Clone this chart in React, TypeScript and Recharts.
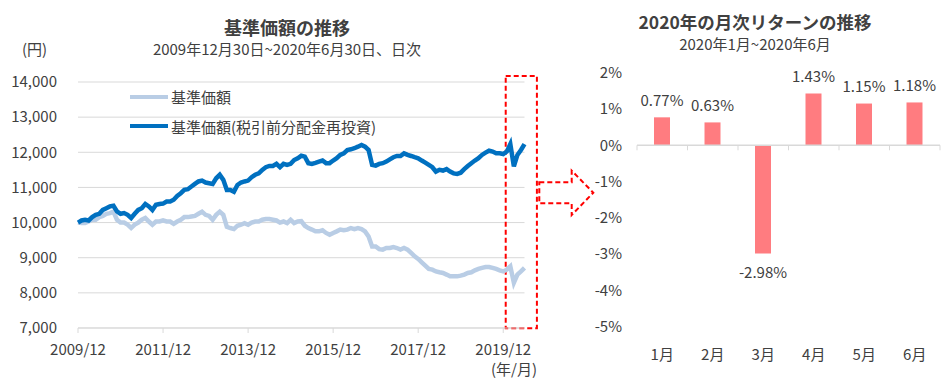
import React from 'react';
import {
  LineChart,
  Line,
  XAxis,
  YAxis,
  CartesianGrid,
  Legend,
  ReferenceArea,
  BarChart,
  Bar,
  LabelList,
  ReferenceLine,
} from 'recharts';

// ---- left chart: month-end NAV, 2009/12 .. 2020/06 ----
const firstMonth = '2009/12';

const baseNav = [
  10000, 9985, 9990, 10030, 10080, 10080, 10155, 10190, 10250, 10270, 10310, 10080,
  10000, 10000, 9940, 9845, 9940, 10000, 10080, 10130, 10030, 9940, 10030, 10030,
  10060, 10030, 10030, 9965, 10030, 10080, 10155, 10155, 10175, 10190, 10250, 10310,
  10220, 10190, 10080, 10220, 10310, 10220, 9880, 9845, 9815, 9910, 9940, 9985,
  9940, 10000, 10030, 10030, 10080, 10100, 10100, 10080, 10060, 10000, 10030, 9985,
  10080, 9985, 10030, 10040, 9910, 9845, 9800, 9750, 9750, 9780, 9705, 9655,
  9705, 9750, 9800, 9780, 9800, 9845, 9815, 9845, 9815, 9750, 9605, 9320,
  9320, 9245, 9230, 9275, 9275, 9300, 9275, 9230, 9275, 9230, 9135, 9040,
  8965, 8870, 8775, 8680, 8660, 8610, 8585, 8565, 8520, 8470, 8470, 8470,
  8490, 8520, 8565, 8585, 8640, 8680, 8710, 8735, 8735, 8710, 8680, 8640,
  8610, 8660, 8755, 8290, 8520, 8610, 8710,
];

const reinvestNav = [
  10000, 10060, 10080, 10060, 10155, 10220, 10250, 10360, 10410, 10460, 10480, 10315,
  10250, 10270, 10220, 10130, 10250, 10360, 10410, 10530, 10460, 10360, 10505, 10530,
  10540, 10600, 10600, 10650, 10760, 10835, 10930, 10950, 11025, 11100, 11170, 11195,
  11140, 11120, 11100, 11260, 11360, 11215, 10930, 10930, 10880, 11070, 11140, 11170,
  11195, 11290, 11360, 11400, 11500, 11575, 11610, 11610, 11670, 11575, 11670, 11640,
  11670, 11780, 11830, 11900, 11875, 11690, 11670, 11700, 11735, 11765, 11690, 11690,
  11765, 11830, 11925, 11970, 12065, 12085, 12115, 12160, 12210, 12160, 12065, 11640,
  11620, 11670, 11690, 11735, 11800, 11860, 11895, 11895, 11970, 11925, 11895, 11860,
  11830, 11765, 11705, 11640, 11575, 11450, 11500, 11480, 11520, 11450, 11400, 11385,
  11420, 11520, 11610, 11690, 11765, 11830, 11925, 11990, 12045, 12020, 11970, 11970,
  11950, 12020, 12235, 11600, 11925, 12065, 12235,
];

const xTickLabels = ['2009/12', '2011/12', '2013/12', '2015/12', '2017/12', '2019/12'];
const yTicksNav = [7000, 8000, 9000, 10000, 11000, 12000, 13000, 14000];

// ---- right chart: 2020 monthly returns (%) ----
const months = ['1月', '2月', '3月', '4月', '5月', '6月'];
const monthlyReturns = [0.77, 0.63, -2.98, 1.43, 1.15, 1.18];
const yTicksReturn = [-5, -4, -3, -2, -1, 0, 1, 2];

// "YYYY/MM" -> months since firstMonth
const toMonthIndex = (d: string) => {
  const [y, m] = d.split('/').map(Number);
  const [y0, m0] = firstMonth.split('/').map(Number);
  return (y - y0) * 12 + (m - m0);
};

const navData = baseNav.map((v, i) => ({ m: i, base: v, reinvest: reinvestNav[i] }));
const xTicks = xTickLabels.map(toMonthIndex);
const lastIndex = baseNav.length - 1;

const returnData = months.map((name, i) => ({ name, value: monthlyReturns[i] }));

const FONT = '"Noto Sans CJK JP", "Noto Sans", sans-serif';
const TEXT = '#404040';
const GRID = '#D9D9D9';

const renderLegend = (props: any) => (
  <div>
    {props.payload.map((p: any) => (
      <div
        key={p.value}
        style={{ display: 'flex', alignItems: 'center', height: 29.5, fontSize: 15, color: TEXT, whiteSpace: 'nowrap' }}
      >
        <svg width={40} height={6}>
          <line x1={0} y1={3} x2={38} y2={3} stroke={p.color} strokeWidth={4} />
        </svg>
        <span style={{ marginLeft: 1 }}>{p.value}</span>
      </div>
    ))}
  </div>
);

const renderBarLabel = (props: any) => {
  const { x, y, width, height, value } = props;
  const top = Math.min(y, y + height);
  const bottom = Math.max(y, y + height);
  const ty = value >= 0 ? top - 11.5 : bottom + 24.5;
  return (
    <text x={x + width / 2} y={ty} textAnchor="middle" fontSize={15} fill={TEXT} fontFamily={FONT}>
      {Number(value).toFixed(2)}%
    </text>
  );
};

// category axis drawn on the 0% line, with tick marks between categories
const ZeroAxis = (props: any) => {
  const { x1, y1, x2 } = props;
  const n = months.length;
  const step = (x2 - x1) / n;
  return (
    <g>
      <line x1={x1} y1={y1} x2={x2} y2={y1} stroke={GRID} strokeWidth={1.5} />
      {Array.from({ length: n + 1 }, (_, i) => (
        <line key={i} x1={x1 + i * step} x2={x1 + i * step} y1={y1} y2={y1 + 5} stroke={GRID} />
      ))}
    </g>
  );
};

const centered = (cx: number, cy: number, w: number, h: number, size: number, bold = false): React.CSSProperties => ({
  position: 'absolute',
  left: cx - w / 2,
  width: w,
  top: cy - h / 2,
  height: h,
  lineHeight: `${h}px`,
  textAlign: 'center',
  fontSize: size,
  fontWeight: bold ? 700 : 400,
  color: TEXT,
  whiteSpace: 'nowrap',
});

export default function App() {
  return (
    <div
      style={{
        position: 'absolute',
        left: 0,
        top: 0,
        width: 948,
        height: 388,
        background: '#fff',
        fontFamily: FONT,
        overflow: 'hidden',
      }}
    >
      {/* left titles */}
      <div style={centered(287, 26.5, 300, 20, 18, true)}>基準価額の推移</div>
      <div style={centered(287, 48.5, 300, 20, 15)}>2009年12月30日~2020年6月30日、日次</div>
      <div style={{ position: 'absolute', left: 22, top: 38, fontSize: 15, color: TEXT }}>(円)</div>
      <div style={{ position: 'absolute', left: 437, width: 100, textAlign: 'right', top: 358, fontSize: 15, color: TEXT }}>
        (年/月)
      </div>

      <div style={{ position: 'absolute', left: 0, top: 0 }}>
        <LineChart width={540} height={388} data={navData} margin={{ top: 82, right: 15.5, left: 0, bottom: 30 }}>
          <CartesianGrid vertical={false} stroke={GRID} />
          <XAxis
            dataKey="m"
            type="number"
            domain={[0, lastIndex]}
            ticks={xTicks}
            tickFormatter={(v: number) => xTickLabels[xTicks.indexOf(v)] ?? ''}
            stroke={GRID}
            height={30}
            tickSize={5}
            tickMargin={11}
            tick={{ fill: TEXT, fontSize: 15 }}
          />
          <YAxis
            domain={[7000, 14000]}
            ticks={yTicksNav}
            width={78}
            axisLine={false}
            tickLine={false}
            tickMargin={15}
            tickFormatter={(v: number) => v.toLocaleString('en-US')}
            tick={{ fill: TEXT, fontSize: 15 }}
          />
          <Legend
            layout="vertical"
            align="center"
            verticalAlign="middle"
            content={renderLegend}
            wrapperStyle={{ top: 82, left: 130, width: 320 }}
          />
          <Line
            type="linear"
            dataKey="base"
            name="基準価額"
            stroke="#B9CDE5"
            strokeWidth={4.5}
            dot={false}
            isAnimationActive={false}
          />
          <Line
            type="linear"
            dataKey="reinvest"
            name="基準価額(税引前分配金再投資)"
            stroke="#0070C0"
            strokeWidth={4.5}
            dot={false}
            isAnimationActive={false}
          />
          <ReferenceArea
            x1={120.7}
            x2={129.5}
            y1={6995}
            y2={14170}
            ifOverflow="visible"
            fill="none"
            stroke="#FF0000"
            strokeWidth={2}
            strokeDasharray="5 3"
          />
        </LineChart>
      </div>

      {/* dashed arrow between the charts */}
      <svg width={948} height={388} style={{ position: 'absolute', left: 0, top: 0, pointerEvents: 'none' }}>
        <path
          d="M539.3,182.3 L571.7,182.3 L571.7,170.7 L593.3,192.7 L571.7,215 L571.7,203.3 L539.3,203.3 Z"
          fill="none"
          stroke="#FF0000"
          strokeWidth={2}
          strokeDasharray="5 3"
        />
      </svg>

      {/* right titles */}
      <div style={centered(755, 22, 260, 20, 17.5, true)}>2020年の月次リターンの推移</div>
      <div style={centered(755, 43.5, 260, 20, 15)}>2020年1月~2020年6月</div>

      <div style={{ position: 'absolute', left: 560, top: 0 }}>
        <BarChart width={388} height={388} data={returnData} margin={{ top: 72.7, right: 8, left: 0, bottom: 31.3 }}>
          <XAxis
            dataKey="name"
            axisLine={false}
            tickLine={false}
            height={30}
            tickMargin={17}
            tick={{ fill: TEXT, fontSize: 15 }}
          />
          <YAxis
            domain={[-5, 2]}
            ticks={yTicksReturn}
            width={77}
            axisLine={false}
            tickLine={false}
            tickMargin={9}
            tickFormatter={(v: number) => `${v}%`}
            tick={{ fill: TEXT, fontSize: 15 }}
          />
          <ReferenceLine y={0} shape={ZeroAxis} />
          <Bar dataKey="value" fill="#FF7C80" barSize={16} isAnimationActive={false}>
            <LabelList dataKey="value" content={renderBarLabel} />
          </Bar>
        </BarChart>
      </div>
    </div>
  );
}
